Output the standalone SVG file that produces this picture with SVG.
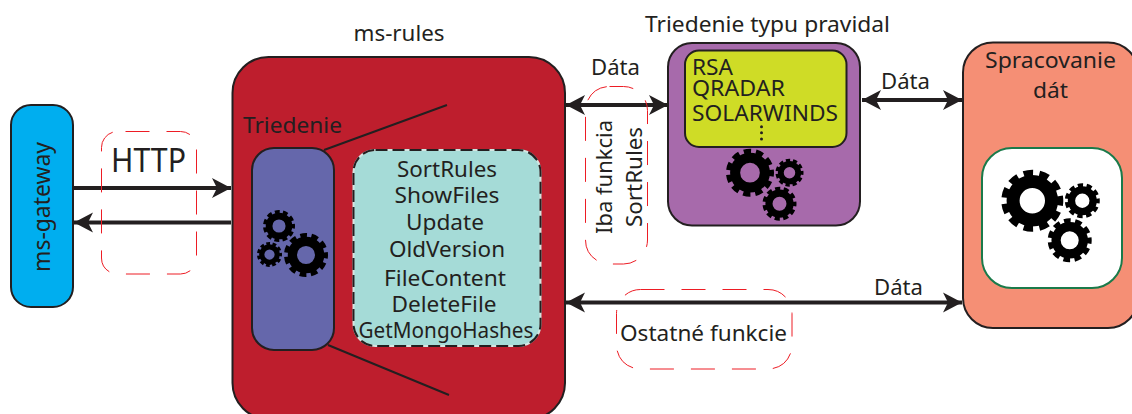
<svg xmlns="http://www.w3.org/2000/svg" width="1132" height="414" viewBox="0 0 1132 414">
<style>
.n{stroke:#231f20;stroke-width:2}
.t{font-family:"Noto Sans","Open Sans",sans-serif;fill:#231f20;font-size:21px}
.m{text-anchor:middle}
.c{stroke:#231f20;stroke-width:4;fill:none}
.l{stroke:#231f20;stroke-width:2;fill:none}
.r{fill:none;stroke:#ed1c24;stroke-width:1;stroke-dasharray:24 17}
</style>
<defs>
<marker id="a" markerUnits="userSpaceOnUse" markerWidth="22" markerHeight="22" refX="20" refY="10" orient="auto-start-reverse" viewBox="0 0 22 20">
<path d="M20 10L1 0L6 10L1 20Z" fill="#231f20"/>
</marker>
<g id="gear">
<circle r="31" fill="none" stroke="#000" stroke-width="21"/>
<circle r="44" fill="none" stroke="#000" stroke-width="12" pathLength="110" stroke-dasharray="6 4" stroke-dashoffset="3"/>
</g>
</defs>
<g id="ms-gateway">
<rect class="n" x="11" y="105" width="62" height="202" rx="20" fill="#00aeef"/>
<text class="t m" transform="translate(50,207) rotate(-90)" style="font-size:24px" textLength="130" lengthAdjust="spacingAndGlyphs">ms-gateway</text>
</g>
<g id="ms-rules">
<rect class="n" x="232.500" y="57" width="332.500" height="362" rx="36" fill="#be1e2d"/>
<text class="t m" x="399" y="41" textLength="91" lengthAdjust="spacingAndGlyphs">ms-rules</text>
<text class="t" x="243" y="133" textLength="99" lengthAdjust="spacingAndGlyphs">Triedenie</text>
<path class="l" d="M324 150L447 105M328 345L449 395"/>
</g>
<g id="triedenie">
<rect class="n" x="252" y="148" width="82" height="202" rx="22" fill="#6567ab"/>
<use href="#gear" transform="translate(306,255) scale(.44)"/>
<use href="#gear" transform="translate(279,226) scale(.32)"/>
<use href="#gear" transform="translate(269.500,254.500) scale(.25)"/>
</g>
<g id="functions">
<rect x="353.500" y="150" width="187" height="196" rx="22" fill="#a5dbd7" stroke="#d4e6e2" stroke-width="2"/>
<rect x="353.500" y="150" width="187" height="196" rx="22" fill="none" stroke="#231f20" stroke-width="2" stroke-dasharray="12 5"/>
<text class="t m" x="447" y="176.500" textLength="100" lengthAdjust="spacingAndGlyphs">SortRules</text>
<text class="t m" x="447" y="202.500" textLength="105" lengthAdjust="spacingAndGlyphs">ShowFiles</text>
<text class="t m" x="445" y="229.500" textLength="78" lengthAdjust="spacingAndGlyphs">Update</text>
<text class="t m" x="447" y="256.500" textLength="116" lengthAdjust="spacingAndGlyphs">OldVersion</text>
<text class="t m" x="445" y="285.500" textLength="122" lengthAdjust="spacingAndGlyphs">FileContent</text>
<text class="t m" x="444" y="312" textLength="105" lengthAdjust="spacingAndGlyphs">DeleteFile</text>
<text class="t m" x="446" y="337.500" textLength="175" lengthAdjust="spacingAndGlyphs">GetMongoHashes</text>
</g>
<g id="triedenie-typu">
<text class="t" x="645" y="32" textLength="245" lengthAdjust="spacingAndGlyphs">Triedenie typu pravidal</text>
<rect class="n" x="668" y="43" width="192" height="182.500" rx="24" fill="#a76aab"/>
<rect class="n" x="685" y="50.500" width="161.500" height="96.500" rx="14" fill="#cfdc26"/>
<text class="t" x="692" y="75" textLength="41" lengthAdjust="spacingAndGlyphs">RSA</text>
<text class="t" x="692" y="96" textLength="93" lengthAdjust="spacingAndGlyphs">QRADAR</text>
<text class="t" x="692" y="121" textLength="146" lengthAdjust="spacingAndGlyphs">SOLARWINDS</text>
<circle cx="761.500" cy="126.700" r="1.500" fill="#231f20"/>
<circle cx="761.500" cy="132.800" r="1.500" fill="#231f20"/>
<circle cx="761.500" cy="139" r="1.500" fill="#231f20"/>
<use href="#gear" transform="translate(750,172.700) scale(.48)"/>
<use href="#gear" transform="translate(789.500,172.700) scale(.28)"/>
<use href="#gear" transform="translate(779.500,203.700) scale(.34)"/>
</g>
<g id="spracovanie">
<rect class="n" x="963" y="42.500" width="175" height="285.500" rx="30" fill="#f58f75"/>
<text class="t m" x="1050.500" y="67.500" textLength="131" lengthAdjust="spacingAndGlyphs">Spracovanie</text>
<text class="t m" x="1050.500" y="98" textLength="35" lengthAdjust="spacingAndGlyphs">dát</text>
<rect x="982" y="148" width="140" height="140" rx="30" fill="#fff" stroke="#1a7a4a" stroke-width="2"/>
<use href="#gear" transform="translate(1032.300,200.700) scale(.62)"/>
<use href="#gear" transform="translate(1082.300,200.700) scale(.35)"/>
<use href="#gear" transform="translate(1069.700,240.300) scale(.44)"/>
</g>
<g id="connectors">
<path class="c" d="M73 188H231" marker-end="url(#a)"/>
<path class="c" d="M231 222.500H74" marker-end="url(#a)"/>
<path class="c" d="M566 105H668" marker-start="url(#a)" marker-end="url(#a)"/>
<path class="c" d="M862 100H962" marker-start="url(#a)" marker-end="url(#a)"/>
<path class="c" d="M566 302.500H962" marker-start="url(#a)" marker-end="url(#a)"/>
</g>
<g id="labels">
<rect class="r" x="101.500" y="131.500" width="95" height="142.500" rx="16" stroke-dashoffset="-8"/>
<text class="t" x="111" y="172" style="font-size:33px" textLength="75" lengthAdjust="spacingAndGlyphs">HTTP</text>
<rect class="r" x="585.500" y="86.500" width="62" height="177.500" rx="24"/>
<text class="t m" transform="translate(612,177) rotate(-90)" textLength="114" lengthAdjust="spacingAndGlyphs">Iba funkcia</text>
<text class="t m" transform="translate(642,177) rotate(-90)" textLength="100" lengthAdjust="spacingAndGlyphs">SortRules</text>
<rect class="r" x="616.500" y="289.500" width="175.500" height="79.500" rx="24"/>
<text class="t" x="620" y="341" textLength="167" lengthAdjust="spacingAndGlyphs">Ostatné funkcie</text>
<text class="t" x="591" y="75" textLength="49" lengthAdjust="spacingAndGlyphs">Dáta</text>
<text class="t" x="881" y="89" textLength="49" lengthAdjust="spacingAndGlyphs">Dáta</text>
<text class="t" x="874" y="295" textLength="49" lengthAdjust="spacingAndGlyphs">Dáta</text>
</g>
</svg>
